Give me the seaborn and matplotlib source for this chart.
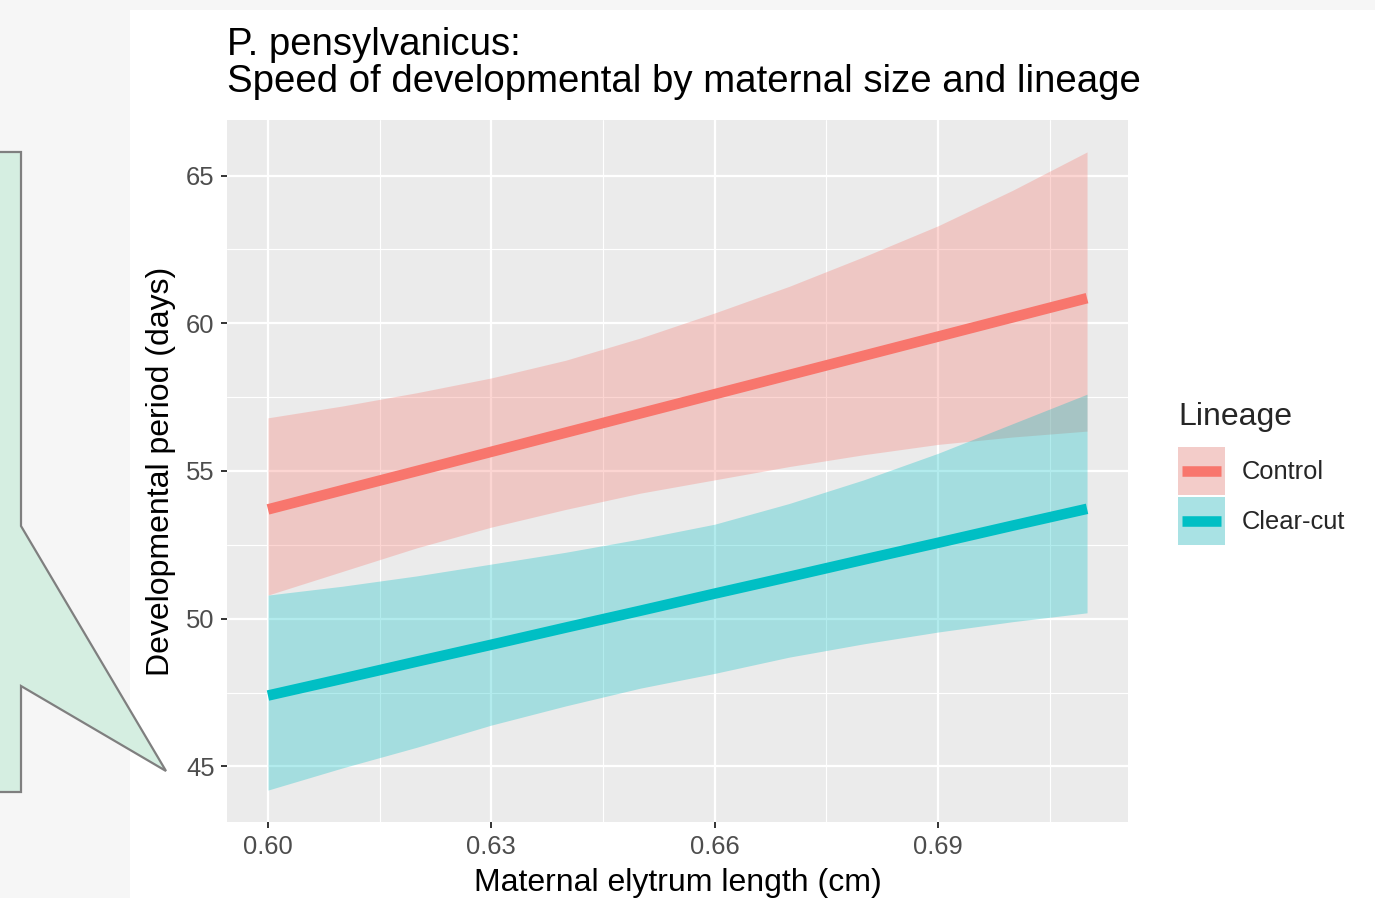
import matplotlib
matplotlib.use("Agg")
import matplotlib.pyplot as plt
import seaborn as sns
import pandas as pd
from matplotlib.patches import Rectangle, Polygon, Patch
from matplotlib.lines import Line2D
from matplotlib.legend_handler import HandlerBase, HandlerTuple
from matplotlib.ticker import FixedLocator

# ---------------- data ----------------
x_vals = [0.60, 0.61, 0.62, 0.63, 0.64, 0.65, 0.66, 0.67, 0.68, 0.69, 0.70, 0.71]
control_fit = [53.70, 54.35, 55.00, 55.65, 56.30, 56.95, 57.60, 58.25, 58.90, 59.55, 60.20, 60.85]
control_upper = [56.8, 57.2, 57.65, 58.15, 58.75, 59.5, 60.35, 61.25, 62.25, 63.3, 64.5, 65.8]
control_lower = [50.8, 51.6, 52.4, 53.1, 53.7, 54.25, 54.7, 55.15, 55.55, 55.9, 56.15, 56.35]
clear_fit = [47.40, 47.97, 48.55, 49.12, 49.70, 50.27, 50.85, 51.42, 52.00, 52.57, 53.15, 53.72]
clear_upper = [50.8, 51.1, 51.45, 51.85, 52.25, 52.7, 53.2, 53.9, 54.7, 55.6, 56.6, 57.6]
clear_lower = [44.2, 44.95, 45.65, 46.4, 47.05, 47.65, 48.15, 48.7, 49.15, 49.55, 49.9, 50.2]

lineages = ["Control", "Clear-cut"]
colors = {"Control": "#F8766D", "Clear-cut": "#00BFC4"}
x_ticks = [0.60, 0.63, 0.66, 0.69]
x_tick_labels = ["0.60", "0.63", "0.66", "0.69"]
y_ticks = [45, 50, 55, 60, 65]

title = "P. pensylvanicus:\nSpeed of developmental by maternal size and lineage"
x_label = "Maternal elytrum length (cm)"
y_label = "Developmental period (days)"
legend_title = "Lineage"

df = pd.DataFrame({
    "x": x_vals * 2,
    "fit": control_fit + clear_fit,
    "lower": control_lower + clear_lower,
    "upper": control_upper + clear_upper,
    "Lineage": ["Control"] * len(x_vals) + ["Clear-cut"] * len(x_vals),
})

# ---------------- style ----------------
sns.set_theme(style="darkgrid", rc={
    "axes.facecolor": "#EBEBEB",
    "grid.color": "white",
    "axes.edgecolor": "none",
})
plt.rcParams["font.family"] = ["Liberation Sans", "DejaVu Sans"]

W, H = 1375, 898
fig = plt.figure(figsize=(W / 100, H / 100), dpi=100)
fig.patch.set_facecolor("#F6F6F6")

def fx(px):
    return px / W

def fy(py):
    return 1 - py / H

# white card behind the chart
fig.patches.append(Rectangle((fx(130), 0), 1 - fx(130), fy(10), transform=fig.transFigure,
                             facecolor="white", edgecolor="none", zorder=-3))
# speech-bubble callout on the left
callout_px = [(-10, 152), (21, 152), (21, 526), (166, 771), (21, 686), (21, 792), (-10, 792)]
fig.patches.append(Polygon([(fx(a), fy(b)) for a, b in callout_px], closed=True,
                           transform=fig.transFigure, facecolor="#D5EEE1",
                           edgecolor="#7F7F7F", linewidth=1.6, zorder=-2))

ax = fig.add_axes([fx(227), fy(822), fx(1128) - fx(227), fy(120) - fy(822)])

# ribbons
for lin in lineages:
    sub = df[df["Lineage"] == lin]
    ax.fill_between(sub["x"], sub["lower"], sub["upper"], color=colors[lin],
                    alpha=0.3, linewidth=0, zorder=2)

# fitted lines
sns.lineplot(data=df, x="x", y="fit", hue="Lineage", hue_order=lineages,
             palette=colors, linewidth=7.6, legend=False, ax=ax, zorder=3,
             solid_capstyle="butt")

# scales
xr = max(x_vals) - min(x_vals)
ax.set_xlim(min(x_vals) - 0.05 * xr, max(x_vals) + 0.05 * xr)
ylo, yhi = min(clear_lower), max(control_upper)
yr = yhi - ylo
ax.set_ylim(ylo - 0.05 * yr, yhi + 0.05 * yr)

ax.xaxis.set_major_locator(FixedLocator(x_ticks))
ax.set_xticklabels(x_tick_labels)
ax.xaxis.set_minor_locator(FixedLocator([0.615, 0.645, 0.675, 0.705]))
ax.yaxis.set_major_locator(FixedLocator(y_ticks))
ax.yaxis.set_minor_locator(FixedLocator([47.5, 52.5, 57.5, 62.5]))
ax.grid(which="major", color="white", linewidth=1.6)
ax.grid(which="minor", color="white", linewidth=0.8)
ax.set_axisbelow(True)

ax.tick_params(axis="both", which="major", length=4.5, width=1.4, color="#333333",
               labelsize=18.4, labelcolor="#4D4D4D", pad=5, bottom=True, left=True)
ax.tick_params(axis="y", which="major", pad=4.5)
ax.tick_params(axis="both", which="minor", length=0)

ax.set_xlabel(x_label, fontsize=23, color="black", labelpad=6)
ax.set_ylabel(y_label, fontsize=23, color="black", labelpad=7)

fig.text(fx(227), fy(27), title, fontsize=27.6, color="black", ha="left", va="top",
         linespacing=1.02)


# legend
class CenteredLine(HandlerBase):
    def create_artists(self, legend, orig_handle, xdescent, ydescent, width, height,
                       fontsize, trans):
        y = height / 2 - ydescent
        x0 = -xdescent + 0.08 * width
        x1 = -xdescent + 0.92 * width
        ln = Line2D([x0, x1], [y, y], color=orig_handle.get_color(),
                    linewidth=orig_handle.get_linewidth(), solid_capstyle="butt",
                    transform=trans)
        return [ln]


handles = []
for lin in lineages:
    handles.append((Patch(facecolor="#F2F2F2", edgecolor="none"),
                    Patch(facecolor=colors[lin], alpha=0.3, edgecolor="none"),
                    Line2D([0], [0], color=colors[lin], linewidth=7.6)))
leg = fig.legend(handles, lineages, title=legend_title, loc="upper left",
                 bbox_to_anchor=(fx(1178), fy(402)), frameon=False, fontsize=18.4,
                 title_fontsize=23, handlelength=1.85, handleheight=2.52,
                 handletextpad=0.65, labelspacing=0.08, borderpad=0, borderaxespad=0,
                 handler_map={tuple: HandlerTuple(ndivide=1), Line2D: CenteredLine()})
leg._legend_box.align = "left"
leg._legend_box.sep = 10.9

fig.savefig("out.png", dpi=100, facecolor=fig.get_facecolor())
